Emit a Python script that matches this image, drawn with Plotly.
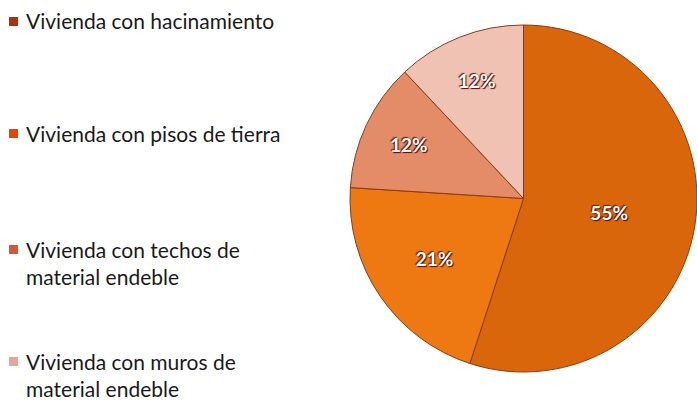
import plotly.graph_objects as go

# Housing deficit breakdown
categories = [
    "Vivienda con hacinamiento",
    "Vivienda con pisos de tierra",
    "Vivienda con techos de<br>material endeble",
    "Vivienda con muros de<br>material endeble",
]
values = [55, 21, 12, 12]
slice_colors = ["#DA660C", "#EE7812", "#E48C68", "#EFC2B4"]
legend_colors = ["#A8330F", "#D94A12", "#D2583C", "#E6A49A"]

W, H = 697, 400

fig = go.Figure()
fig.add_trace(go.Pie(
    labels=categories,
    values=values,
    sort=False,
    direction="clockwise",
    rotation=0,
    marker=dict(colors=slice_colors, line=dict(color="#8a3a18", width=1)),
    textinfo="percent",
    texttemplate="%{percent:.0%}",
    textposition="inside",
    insidetextorientation="horizontal",
    textfont=dict(family="Lato", size=19, color="white", weight="bold",
                  shadow="1px 1px 1px #4a0c00, -1px -1px 1px #6a1500"),
    domain=dict(x=[350 / W, 1.0], y=[1 - 373 / H, 1 - 24 / H]),
    showlegend=False,
    hoverinfo="label+percent",
))

# Hand-placed legend: square swatch plus wrapped label per category
legend_rows = [21, 133, 249, 361]
line_gap = 27
shapes = []
annotations = []
for label, color, y in zip(categories, legend_colors, legend_rows):
    shapes.append(dict(
        type="rect", xref="paper", yref="paper",
        x0=9 / W, x1=18 / W, y0=1 - (y + 5) / H, y1=1 - (y - 4) / H,
        fillcolor=color, line=dict(width=0),
    ))
    for i, line in enumerate(label.split("<br>")):
        annotations.append(dict(
            text=line, xref="paper", yref="paper",
            x=24 / W, y=1 - (y + i * line_gap) / H,
            xanchor="left", yanchor="middle", showarrow=False,
            font=dict(family="Lato", size=21, color="#1a1a1a"),
        ))

fig.update_layout(
    width=W, height=H,
    margin=dict(l=0, r=0, t=0, b=0),
    paper_bgcolor="white",
    plot_bgcolor="white",
    shapes=shapes,
    annotations=annotations,
)

fig.write_html("out.html")
